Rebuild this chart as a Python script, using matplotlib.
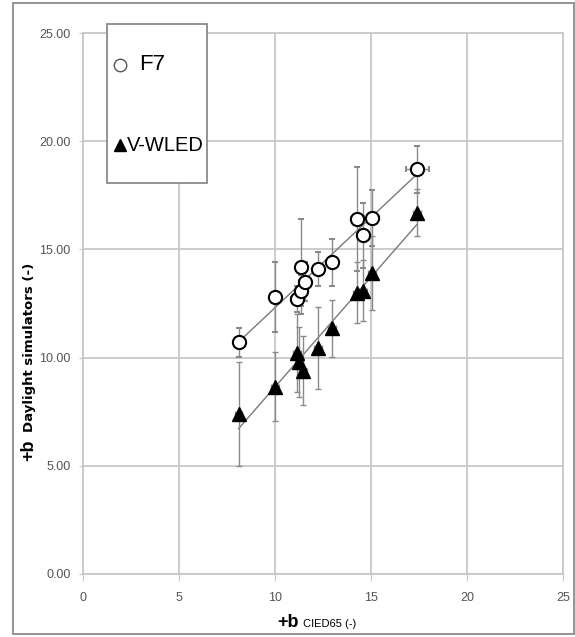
import numpy as np
import matplotlib
matplotlib.use("Agg")
import matplotlib.pyplot as plt
from matplotlib.patches import Rectangle
from matplotlib.lines import Line2D

plt.rcParams['font.family'] = ['Liberation Sans', 'DejaVu Sans']

# F7 fluorescent simulator
f7_x = [8.1, 10.0, 11.15, 11.36, 11.57, 11.36, 12.24, 12.97, 14.26, 14.57, 15.04, 17.4]
f7_y = [10.7, 12.8, 12.7, 13.1, 13.5, 14.2, 14.1, 14.4, 16.4, 15.65, 16.45, 18.7]
f7_yerr = [0.65, 1.6, 0.6, 0.7, 0.9, 2.2, 0.8, 1.1, 2.4, 1.5, 1.3, 1.1]
f7_xerr = [0.25, 0.2, 0.3, 0.2, 0.3, 0.2, 0.2, 0.3, 0.3, 0.3, 0.4, 0.6]

# V-WLED simulator
led_x = [8.1, 10.0, 11.15, 11.25, 11.46, 12.24, 12.97, 14.26, 14.57, 15.04, 17.4]
led_y = [7.4, 8.65, 10.2, 9.8, 9.4, 10.45, 11.35, 13.0, 13.1, 13.9, 16.7]
led_yerr = [2.4, 1.6, 1.8, 1.6, 1.6, 1.9, 1.3, 1.4, 1.4, 1.7, 1.1]
led_xerr = [0.2] * len(led_x)

x_ticks = [0, 5, 10, 15, 20, 25]
y_ticks = [0, 5, 10, 15, 20, 25]

W, H = 575, 637
fig = plt.figure(figsize=(W / 100, H / 100), dpi=100)


def fx(x):
    return x / W


def fy(y):
    return 1 - y / H


ax = fig.add_axes([fx(83), fy(574), fx(563) - fx(83), fy(33) - fy(574)])
ax.set_xlim(0, 25)
ax.set_ylim(0, 25)
ax.set_xticks(x_ticks)
ax.set_yticks(y_ticks)
ax.set_yticklabels(["%.2f" % v for v in y_ticks])
ax.grid(True, color='#c8c8c8', lw=1.3)
ax.set_axisbelow(True)
for s in ax.spines.values():
    s.set_color('#c8c8c8')
    s.set_linewidth(1.3)
ax.tick_params(axis='both', colors='#c8c8c8', labelcolor='#555555', labelsize=9)
ax.tick_params(axis='x', length=5, pad=8)
ax.tick_params(axis='y', length=3, pad=6)

# regression lines
for xs, ys in [(f7_x, f7_y), (led_x, led_y)]:
    k, b = np.polyfit(xs, ys, 1)
    xx = np.array([min(xs), max(xs)])
    ax.plot(xx, k * xx + b, color='#7a7a7a', lw=1.0, zorder=2)

err_kw = dict(ecolor='#8a8a8a', elinewidth=1.0, capsize=2, capthick=1.0)
ax.errorbar(led_x, led_y, yerr=led_yerr, xerr=led_xerr, fmt='^', ms=10,
            mfc='black', mec='black', zorder=3, **err_kw)
ax.errorbar(f7_x, f7_y, yerr=f7_yerr, xerr=f7_xerr, fmt='o', ms=9.5,
            mfc='white', mec='black', mew=1.5, zorder=4, **err_kw)

# axis titles
fig.text(fx(277), fy(627), "+b", fontsize=13, fontweight='bold', va='baseline')
fig.text(fx(303), fy(627), "CIED65 (-)", fontsize=8, va='baseline')
fig.text(fx(33), fy(461), "+b", fontsize=13, fontweight='bold', rotation=90,
         rotation_mode='anchor', ha='left', va='baseline')
fig.text(fx(33), fy(432), "Daylight simulators (-)", fontsize=9.5, fontweight='bold',
         family='DejaVu Sans', rotation=90, rotation_mode='anchor',
         ha='left', va='baseline')

# legend box
fig.add_artist(Rectangle((fx(107), fy(183)), fx(207) - fx(107), fy(24) - fy(183),
                         transform=fig.transFigure, facecolor='white',
                         edgecolor='#8a8a8a', lw=1.3, zorder=10))
fig.add_artist(Line2D([fx(120)], [fy(65)], marker='o', ms=9, mfc='white',
                      mec='#555555', mew=1.0, transform=fig.transFigure, zorder=11))
fig.text(fx(139), fy(65), "F7", fontsize=16, va='center', zorder=11)
fig.add_artist(Line2D([fx(120)], [fy(145)], marker='^', ms=8, color='black',
                      transform=fig.transFigure, zorder=11))
fig.text(fx(127), fy(145), "V-WLED", fontsize=14.5, va='center', zorder=11)

# outer frame
fig.add_artist(Rectangle((fx(13), fy(634)), fx(574) - fx(13), fy(3) - fy(634),
                         transform=fig.transFigure, fill=False,
                         edgecolor='#8c8c8c', lw=1.3))

fig.savefig("out.png", dpi=100)
